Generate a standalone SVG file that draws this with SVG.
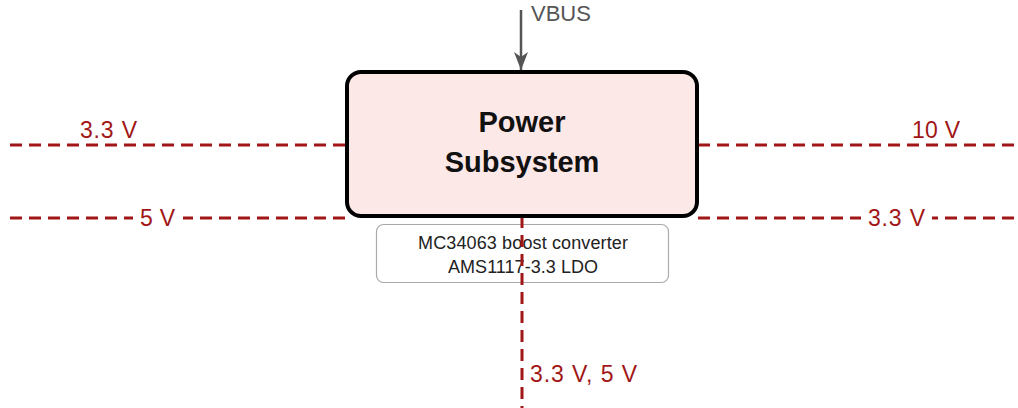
<svg xmlns="http://www.w3.org/2000/svg" width="1018" height="408" viewBox="0 0 1018 408">
  <defs>
    <marker id="arr" viewBox="0 0 18 14" refX="18" refY="7" markerWidth="18" markerHeight="14" markerUnits="userSpaceOnUse" orient="auto">
      <path d="M0,0 L18,7 L0,14 L5,7 z" fill="#555"/>
    </marker>
    <style>
      .rail { stroke: #a11616; stroke-width: 3; stroke-dasharray: 12 7; fill: none; }
      .vlabel { fill: #a11616; font-family: "Liberation Sans", "DejaVu Sans", sans-serif; font-size: 23px; }
      .bg { fill: #fff; }
    </style>
  </defs>
  <rect width="1018" height="408" fill="#fff"/>

  <g id="annotation">
    <rect x="376.5" y="224.5" width="292" height="58" rx="7" fill="#fff" stroke="#aaa" stroke-width="1.2"/>
    <text x="523" y="249" text-anchor="middle" font-family="Liberation Sans, DejaVu Sans, sans-serif" font-size="18" fill="#222" textLength="210">MC34063 boost converter</text>
    <text x="523" y="273" text-anchor="middle" font-family="Liberation Sans, DejaVu Sans, sans-serif" font-size="18" fill="#222" textLength="150">AMS1117-3.3 LDO</text>
  </g>

  <g id="connectors">
    <line x1="521" y1="10" x2="521" y2="70" stroke="#555" stroke-width="2.5" marker-end="url(#arr)"/>
    <text x="531" y="21" font-family="Liberation Sans, DejaVu Sans, sans-serif" font-size="22" fill="#555">VBUS</text>

    <line class="rail" x1="10" y1="145" x2="346" y2="145"/>
    <text class="vlabel" x="80" y="138" textLength="57">3.3 V</text>

    <line class="rail" x1="10" y1="218" x2="346" y2="218"/>
    <rect class="bg" x="133" y="205" width="50" height="26"/>
    <text class="vlabel" x="140" y="226" textLength="35">5 V</text>

    <line class="rail" x1="698" y1="145" x2="1018" y2="145"/>
    <text class="vlabel" x="912" y="138" textLength="48">10 V</text>

    <line class="rail" x1="698" y1="218" x2="1018" y2="218"/>
    <rect class="bg" x="861" y="205" width="71" height="26"/>
    <text class="vlabel" x="868" y="226" textLength="57">3.3 V</text>

    <line class="rail" x1="522" y1="216" x2="522" y2="408" stroke-dasharray="11 6"/>
    <text class="vlabel" x="530" y="382" textLength="107">3.3 V, 5 V</text>
  </g>

  <g id="power">
    <rect x="347" y="72" width="350" height="144" rx="14" fill="#fde8e8" stroke="#000" stroke-width="4"/>
    <text x="522" y="132" text-anchor="middle" font-family="Liberation Sans, DejaVu Sans, sans-serif" font-size="29" font-weight="bold" fill="#111">Power</text>
    <text x="522" y="172" text-anchor="middle" font-family="Liberation Sans, DejaVu Sans, sans-serif" font-size="29" font-weight="bold" fill="#111">Subsystem</text>
  </g>
</svg>
